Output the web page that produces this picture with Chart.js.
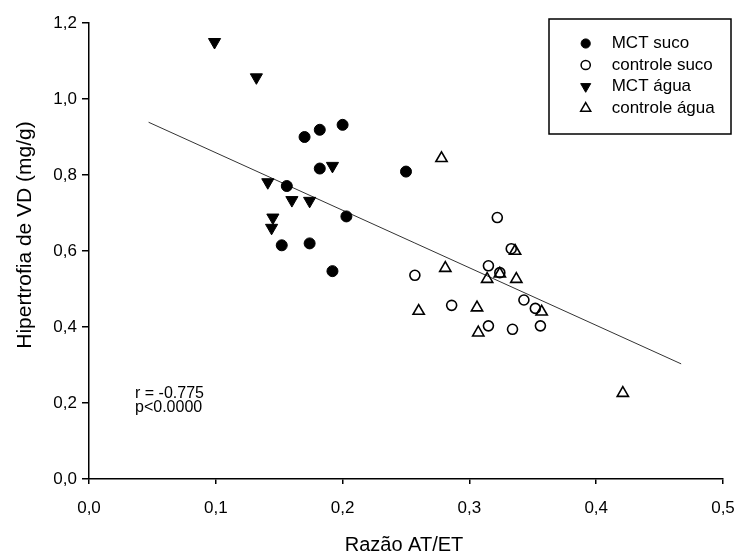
<!DOCTYPE html>
<html>
<head>
<meta charset="utf-8">
<title>Hipertrofia de VD vs Razão AT/ET</title>
<script src="https://cdn.jsdelivr.net/npm/chart.js@4.4.1/dist/chart.umd.min.js"></script>
<style>
  html, body { margin: 0; padding: 0; background: #ffffff; }
  canvas { display: block; }
</style>
</head>
<body>
<canvas id="chart" width="739" height="553"></canvas>
<script>
// Axis tick labels (Brazilian decimal comma)
const xTickLabels = ['0,0', '0,1', '0,2', '0,3', '0,4', '0,5'];
const yTickLabels = ['0,0', '0,2', '0,4', '0,6', '0,8', '1,0', '1,2'];

// MCT suco (filled circles)
const mctSucoX = [0.170, 0.182, 0.200, 0.182, 0.156, 0.203, 0.152, 0.174, 0.192, 0.250];
const mctSucoY = [0.900, 0.919, 0.932, 0.817, 0.771, 0.691, 0.615, 0.620, 0.547, 0.809];

// controle suco (open circles)
const ctrlSucoX = [0.322, 0.333, 0.257, 0.315, 0.324, 0.286, 0.343, 0.352, 0.315, 0.334, 0.356];
const ctrlSucoY = [0.688, 0.606, 0.536, 0.561, 0.543, 0.457, 0.471, 0.449, 0.403, 0.394, 0.403];

// MCT água (filled, downward triangles)
const mctAguaX = [0.099, 0.132, 0.192, 0.141, 0.160, 0.174, 0.145, 0.144];
const mctAguaY = [1.150, 1.057, 0.824, 0.781, 0.734, 0.732, 0.688, 0.661];

// controle água (open, upward triangles)
const ctrlAguaX = [0.278, 0.336, 0.281, 0.324, 0.314, 0.337, 0.260, 0.306, 0.357, 0.307, 0.421];
const ctrlAguaY = [0.844, 0.600, 0.555, 0.540, 0.526, 0.526, 0.442, 0.451, 0.440, 0.385, 0.226];

// Linear fit shown across the pooled data
const fitSlope = -1.514;
const fitIntercept = 1.010;
const fitXRange = [0.047, 0.467];

// Correlation annotation
const statLines = ['r = -0.775', 'p<0.0000'];

const xTitle = 'Razão AT/ET';
const yTitle = 'Hipertrofia de VD (mg/g)';

const FONT = '"Liberation Sans", Arial, Helvetica, sans-serif';

function pairs(xs, ys) {
  return xs.map((x, i) => ({ x: x, y: ys[i] }));
}

const fitPoints = fitXRange.map(x => ({ x: x, y: fitIntercept + fitSlope * x }));

const datasets = [
  {
    label: 'MCT suco',
    data: pairs(mctSucoX, mctSucoY),
    pointStyle: 'circle',
    pointRadius: 5.5,
    backgroundColor: '#000000',
    borderColor: '#000000',
    borderWidth: 1,
    legendFilled: true
  },
  {
    label: 'controle suco',
    data: pairs(ctrlSucoX, ctrlSucoY),
    pointStyle: 'circle',
    pointRadius: 5,
    backgroundColor: 'rgba(0,0,0,0)',
    borderColor: '#000000',
    borderWidth: 1.6,
    legendFilled: false
  },
  {
    label: 'MCT água',
    data: pairs(mctAguaX, mctAguaY),
    pointStyle: 'triangle',
    rotation: 180,
    pointRadius: 7,
    backgroundColor: '#000000',
    borderColor: '#000000',
    borderWidth: 1,
    legendFilled: true
  },
  {
    label: 'controle água',
    data: pairs(ctrlAguaX, ctrlAguaY),
    pointStyle: 'triangle',
    rotation: 0,
    pointRadius: 6.5,
    backgroundColor: 'rgba(0,0,0,0)',
    borderColor: '#000000',
    borderWidth: 1.6,
    legendFilled: false
  },
  {
    type: 'line',
    label: 'ajuste',
    data: fitPoints,
    showLine: true,
    borderColor: '#333333',
    borderWidth: 1,
    pointRadius: 0,
    fill: false,
    inLegend: false
  }
];

// Small marker painter for the boxed legend
function paintMarker(ctx, style, rotationDeg, x, y, r, filled) {
  ctx.save();
  ctx.beginPath();
  if (style === 'circle') {
    ctx.arc(x, y, r, 0, Math.PI * 2);
  } else {
    let rad = rotationDeg * Math.PI / 180;
    for (let k = 0; k < 3; k++) {
      const px = x + Math.sin(rad) * r;
      const py = y - Math.cos(rad) * r;
      if (k === 0) ctx.moveTo(px, py); else ctx.lineTo(px, py);
      rad += 2 * Math.PI / 3;
    }
    ctx.closePath();
  }
  ctx.strokeStyle = '#000';
  ctx.lineWidth = filled ? 1 : 1.5;
  if (filled) { ctx.fillStyle = '#000'; ctx.fill(); }
  ctx.stroke();
  ctx.restore();
}

const decorations = {
  id: 'decorations',
  afterDraw(chart) {
    const ctx = chart.ctx;
    const area = chart.chartArea;
    ctx.save();
    ctx.fillStyle = '#000';

    // Y axis title, rotated
    ctx.font = '21px ' + FONT;
    ctx.textAlign = 'center';
    ctx.textBaseline = 'middle';
    ctx.save();
    ctx.translate(25, area.top + 212);
    ctx.rotate(-Math.PI / 2);
    ctx.fillText(yTitle, 0, 0);
    ctx.restore();

    // X axis title
    ctx.font = '20px ' + FONT;
    ctx.fillText(xTitle, (area.left + area.right) / 2 - 2, 545);

    // Correlation text
    ctx.font = '16px ' + FONT;
    ctx.textAlign = 'left';
    statLines.forEach((t, i) => ctx.fillText(t, 135, 394 + i * 14));

    // Boxed legend
    const box = { left: 549, top: 19, right: 731, bottom: 134 };
    ctx.lineWidth = 1.5;
    ctx.strokeStyle = '#000';
    ctx.strokeRect(box.left, box.top, box.right - box.left, box.bottom - box.top);
    ctx.font = '17px ' + FONT;
    const rowY = [43.5, 65, 86.5, 108.3];
    chart.data.datasets.filter(d => d.inLegend !== false).forEach((d, i) => {
      const y = rowY[i];
      const r = d.pointStyle === 'circle' ? 4.6 : 5.8;
      paintMarker(ctx, d.pointStyle, d.rotation || 0, 585.7, y, r, d.legendFilled);
      ctx.fillStyle = '#000';
      ctx.fillText(d.label, 611.7, y);
    });
    ctx.restore();
  }
};

Chart.defaults.font.family = FONT;
Chart.defaults.color = '#000';

new Chart(document.getElementById('chart'), {
  type: 'scatter',
  data: { datasets: datasets },
  options: {
    responsive: false,
    animation: false,
    devicePixelRatio: 1,
    events: [],
    layout: { padding: { left: 0, top: 23, right: 16, bottom: 0 } },
    plugins: {
      legend: { display: false },
      tooltip: { enabled: false }
    },
    scales: {
      x: {
        type: 'linear',
        min: 0,
        max: 0.5,
        afterFit(scale) {
          scale.height = 74;
          scale.paddingLeft = 0;
          scale.paddingRight = 0;
        },
        ticks: {
          stepSize: 0.1,
          padding: 14,
          font: { size: 17 },
          color: '#000',
          callback: (v, i) => xTickLabels[i]
        },
        grid: {
          drawOnChartArea: false,
          drawTicks: true,
          tickLength: 5,
          color: '#000',
          lineWidth: 1.5
        },
        border: { display: true, color: '#000', width: 1.5 }
      },
      y: {
        type: 'linear',
        min: 0,
        max: 1.2,
        afterFit(scale) {
          scale.width = 89;
          scale.paddingTop = 0;
          scale.paddingBottom = 0;
        },
        ticks: {
          stepSize: 0.2,
          padding: 5,
          font: { size: 17 },
          color: '#000',
          callback: (v, i) => yTickLabels[i]
        },
        grid: {
          drawOnChartArea: false,
          drawTicks: true,
          tickLength: 7,
          color: '#000',
          lineWidth: 1.5
        },
        border: { display: true, color: '#000', width: 1.5 }
      }
    }
  },
  plugins: [decorations]
});
</script>
</body>
</html>
